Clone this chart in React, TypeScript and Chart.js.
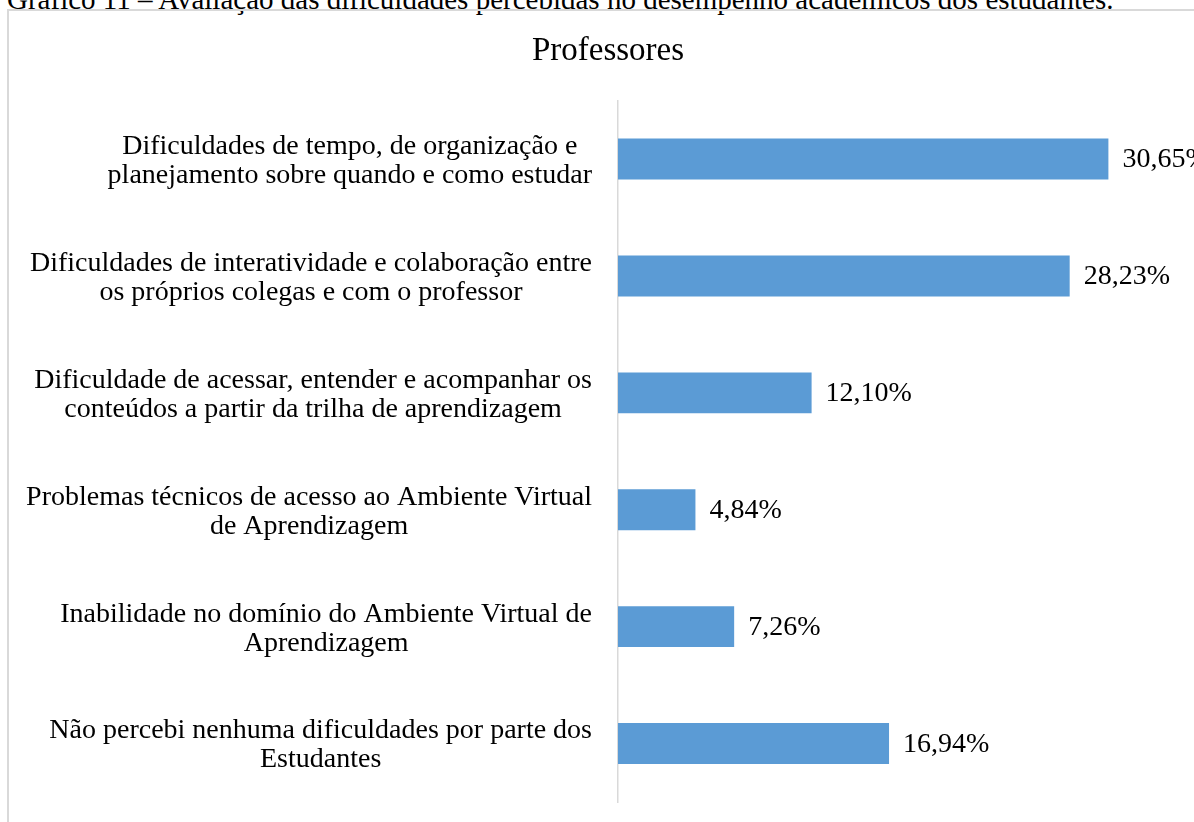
import React, { useEffect, useRef } from "react";
import { Chart, registerables } from "chart.js";

Chart.register(...registerables);

const CAPTION = "Gráfico 11 – Avaliação das dificuldades percebidas no desempenho acadêmicos dos estudantes.";
const TITLE = "Professores";

const categories: string[][] = [
  ["Dificuldades de tempo, de organização e", "planejamento sobre quando e como estudar"],
  ["Dificuldades de interatividade e colaboração entre", "os próprios colegas e com o professor"],
  ["Dificuldade de acessar, entender e acompanhar os", "conteúdos a partir da trilha de aprendizagem"],
  ["Problemas técnicos de acesso ao Ambiente Virtual", "de Aprendizagem"],
  ["Inabilidade no domínio do Ambiente Virtual de", "Aprendizagem"],
  ["Não percebi nenhuma dificuldades por parte dos", "Estudantes"],
];

const values: number[] = [30.65, 28.23, 12.1, 4.84, 7.26, 16.94];

const X_MIN = 0;
const X_MAX = 36;

const FONT_FAMILY = '"Liberation Serif", "Times New Roman", serif';
const LABEL_SIZE = 28;
const LINE_H = 29;
const BAR_COLOR = "#5b9bd5";
const AXIS_COLOR = "#d9d9d9";

const fmt = (v: number) => v.toFixed(2).replace(".", ",") + "%";

const labelPlugin = {
  id: "customLabels",
  afterDraw(chart: any) {
    const ctx = chart.ctx;
    const yScale = chart.scales.y;
    ctx.save();
    ctx.font = `${LABEL_SIZE}px ${FONT_FAMILY}`;
    ctx.fillStyle = "#000";
    ctx.textBaseline = "middle";
    ctx.textAlign = "center";
    categories.forEach((lines, i) => {
      const cy = yScale.getPixelForValue(i) + 2;
      const w = Math.max(...lines.map((l) => ctx.measureText(l).width));
      const cx = chart.chartArea.left - 26 - w / 2;
      const n = lines.length;
      lines.forEach((l, j) => ctx.fillText(l, cx, cy + (j - (n - 1) / 2) * LINE_H));
    });
    ctx.textAlign = "left";
    const meta = chart.getDatasetMeta(0);
    meta.data.forEach((bar: any, i: number) => {
      ctx.fillText(fmt(values[i]), bar.x + 14, bar.y + 1);
    });
    ctx.restore();
  },
};

export default function App() {
  const canvasRef = useRef<HTMLCanvasElement | null>(null);

  useEffect(() => {
    if (!canvasRef.current) return;
    const chart = new Chart(canvasRef.current, {
      type: "bar",
      data: {
        labels: categories.map((c) => c.join(" ")),
        datasets: [
          {
            data: values,
            backgroundColor: BAR_COLOR,
            borderWidth: 0,
            barPercentage: 0.35,
            categoryPercentage: 1,
          },
        ],
      },
      options: {
        indexAxis: "y",
        animation: false,
        responsive: true,
        maintainAspectRatio: false,
        layout: { padding: { left: 22, right: 0, top: 0, bottom: 20 } },
        plugins: {
          legend: { display: false },
          tooltip: { enabled: false },
          title: {
            display: true,
            text: TITLE,
            color: "#000",
            font: { family: FONT_FAMILY, size: 33, weight: "normal" },
            padding: { top: 32, bottom: 29 },
          },
        },
        scales: {
          x: { display: false, min: X_MIN, max: X_MAX },
          y: {
            display: true,
            grid: { display: false },
            border: { display: true, color: AXIS_COLOR, width: 1.5 },
            ticks: { display: false },
            afterFit: (scale: any) => {
              scale.width = 596;
            },
          },
        },
      },
      plugins: [labelPlugin],
    });
    return () => chart.destroy();
  }, []);

  return (
    <div
      style={{
        position: "fixed",
        left: 0,
        top: 0,
        width: 1194,
        height: 822,
        overflow: "hidden",
        background: "#fff",
        fontFamily: FONT_FAMILY,
      }}
    >
      <div
        style={{
          position: "absolute",
          left: 7,
          top: -15,
          fontSize: 29,
          lineHeight: "29px",
          whiteSpace: "nowrap",
          color: "#000",
        }}
      >
        {CAPTION}
      </div>
      <div
        style={{
          position: "absolute",
          left: 7,
          top: 9,
          width: 1400,
          height: 1000,
          border: `2px solid ${AXIS_COLOR}`,
          boxSizing: "border-box",
        }}
      />
      <div style={{ position: "absolute", left: 0, top: 0, width: 1194, height: 822 }}>
        <canvas ref={canvasRef} />
      </div>
    </div>
  );
}
